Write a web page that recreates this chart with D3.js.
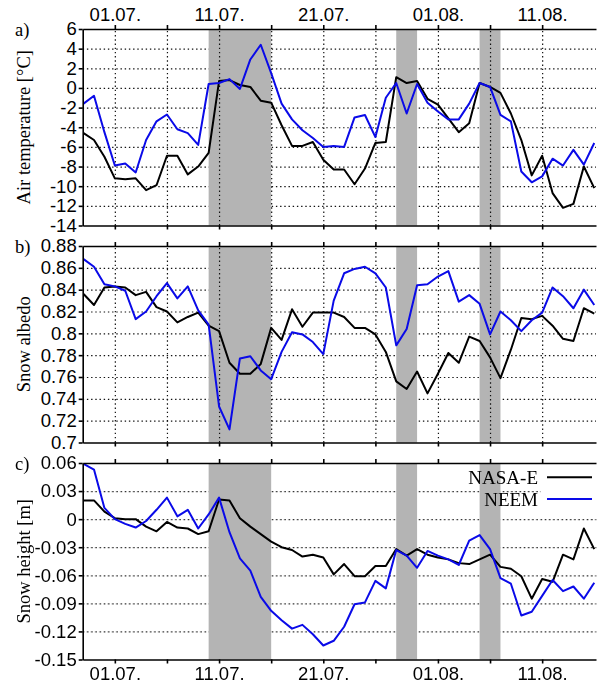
<!DOCTYPE html>
<html>
<head>
<meta charset="utf-8">
<script src="https://cdn.jsdelivr.net/npm/d3@7"></script>
<style>
  body { margin: 0; background: #fff; }
  svg { display: block; font-family: "Liberation Serif", "DejaVu Serif", serif; }
  .grid line { stroke: #111; stroke-width: 1.2; stroke-dasharray: 1.4,2.8; }
  .grid .domain { display: none; }
  .axis text { font-size: 18.5px; fill: #000; }
  .axis line, .axis .domain { stroke: #000; stroke-width: 1.6; }
</style>
</head>
<body>
<div id="chart"></div>
<script>
// Daily values, 28.06. to 16.08.
const startDay = "2012-06-28";
const nDays = 50;

const tempNasa = [-4.6,-5.3,-7.0,-9.2,-9.3,-9.2,-10.4,-9.9,-6.9,-6.9,
  -8.8,-8.0,-6.6,0.7,0.8,0.3,0.1,-1.3,-1.5,-3.8,
  -5.9,-5.9,-5.5,-7.3,-8.3,-8.3,-9.8,-8.2,-5.6,-5.5,
  1.1,0.5,0.7,-1.1,-1.7,-3.1,-4.5,-3.6,0.5,0.1,
  -0.5,-2.6,-5.3,-8.9,-6.9,-10.7,-12.2,-11.8,-8.0,-10.2];
const tempNeem = [-1.6,-0.8,-4.5,-7.9,-7.7,-8.6,-5.3,-3.4,-2.7,-4.2,
  -4.6,-5.8,0.4,0.5,0.9,-0.1,2.9,4.4,1.5,-1.6,
  -3.2,-4.3,-5.1,-6.0,-5.9,-6.0,-3.0,-2.75,-5.0,-1.0,
  0.5,-2.6,0.4,-1.5,-2.4,-3.2,-3.2,-1.6,0.5,0.1,
  -2.75,-3.4,-8.5,-9.6,-9.0,-7.2,-7.9,-6.3,-7.8,-5.6];

const albedoNasa = [0.836,0.826,0.842,0.843,0.842,0.835,0.838,0.824,0.820,0.810,
  0.815,0.819,0.807,0.802,0.773,0.763,0.763,0.772,0.805,0.794,
  0.822,0.806,0.819,0.819,0.819,0.815,0.805,0.805,0.799,0.783,
  0.756,0.749,0.765,0.745,0.763,0.782,0.773,0.797,0.793,0.778,
  0.759,0.785,0.814,0.813,0.816,0.807,0.795,0.793,0.823,0.818];
const albedoNeem = [0.868,0.861,0.845,0.843,0.839,0.813,0.820,0.834,0.846,0.832,
  0.843,0.821,0.808,0.733,0.712,0.777,0.779,0.766,0.758,0.783,
  0.801,0.799,0.792,0.781,0.830,0.855,0.859,0.861,0.855,0.842,
  0.789,0.804,0.844,0.845,0.852,0.857,0.829,0.835,0.827,0.799,
  0.820,0.812,0.802,0.812,0.819,0.842,0.834,0.823,0.840,0.826];

const heightNasa = [0.020,0.020,0.008,0.001,0.000,0.000,-0.008,-0.013,-0.003,-0.009,
  -0.010,-0.016,-0.013,0.021,0.020,0.001,-0.008,-0.016,-0.024,-0.030,
  -0.033,-0.040,-0.038,-0.041,-0.059,-0.048,-0.061,-0.061,-0.050,-0.050,
  -0.032,-0.039,-0.032,-0.038,-0.041,-0.043,-0.047,-0.048,-0.043,-0.038,
  -0.051,-0.053,-0.061,-0.085,-0.064,-0.067,-0.038,-0.043,-0.010,-0.032];
const heightNeem = [0.059,0.053,0.012,0.000,-0.005,-0.009,-0.002,0.010,0.023,0.003,
  0.010,-0.010,0.005,0.023,-0.014,-0.042,-0.055,-0.083,-0.098,-0.108,
  -0.117,-0.113,-0.123,-0.135,-0.130,-0.115,-0.091,-0.089,-0.066,-0.074,
  -0.033,-0.039,-0.052,-0.034,-0.039,-0.043,-0.049,-0.023,-0.017,-0.032,
  -0.063,-0.069,-0.103,-0.099,-0.082,-0.065,-0.077,-0.072,-0.085,-0.068];

// shaded periods
const shadeStart = ["2012-07-10", "2012-07-28", "2012-08-05"];
const shadeEnd = ["2012-07-16", "2012-07-30", "2012-08-07"];

const xTickDates = ["2012-07-01","2012-07-06","2012-07-11","2012-07-16","2012-07-21",
  "2012-07-26","2012-08-01","2012-08-06","2012-08-11"];
const tempTicks = [-14,-12,-10,-8,-6,-4,-2,0,2,4,6];
const albedoTicks = [0.7,0.72,0.74,0.76,0.78,0.8,0.82,0.84,0.86,0.88];
const heightTicks = [-0.15,-0.12,-0.09,-0.06,-0.03,0,0.03,0.06];

const seriesNames = ["NASA-E", "NEEM"];
const colors = ["#000000", "#0a0ae8"];

// layout
const W = 597, H = 685;
const left = 82.7, right = 596;
const panelTop = [29, 246, 463];
const panelH = 196.5;

const parse = d3.utcParse("%Y-%m-%d");
const day0 = parse(startDay);
const dates = d3.range(nDays).map(i => d3.utcDay.offset(day0, i));
const july1 = parse("2012-07-01");

const x = d3.scaleUtc()
  .domain([d3.utcHour.offset(july1, -74), d3.utcHour.offset(july1, 1108)])
  .range([left, right]);
const tickDates = xTickDates.map(parse);
const fmt = d3.utcFormat("%d.%m.");

const svg = d3.select("#chart").append("svg")
  .attr("width", W).attr("height", H);

const defs = svg.append("defs");
// legend box hides the grid in panel c
const mask = defs.append("mask").attr("id", "legmask");
mask.append("rect").attr("x", 0).attr("y", 0).attr("width", W).attr("height", H).attr("fill", "#fff");
mask.append("rect").attr("x", 458).attr("y", 463).attr("width", 140).attr("height", 49).attr("fill", "#000");

const panels = [
  { label: "a)", title: "Air temperature [°C]", ticks: tempTicks, dom: [-14, 6], series: [tempNasa, tempNeem] },
  { label: "b)", title: "Snow albedo", ticks: albedoTicks, dom: [0.7, 0.88], series: [albedoNasa, albedoNeem] },
  { label: "c)", title: "Snow height [m]", ticks: heightTicks, dom: [-0.15, 0.06], series: [heightNasa, heightNeem] }
];

panels.forEach((p, k) => {
  const top = panelTop[k], bottom = top + panelH;
  const y = d3.scaleLinear().domain(p.dom).range([bottom, top]);
  const g = svg.append("g");

  defs.append("clipPath").attr("id", "clip" + k)
    .append("rect").attr("x", left).attr("y", top).attr("width", right - left).attr("height", panelH);

  const gridMask = k === 2 ? "url(#legmask)" : null;

  // horizontal grid
  g.append("g").attr("class", "grid").attr("mask", gridMask)
    .attr("transform", `translate(${left},0)`)
    .call(d3.axisLeft(y).tickValues(p.ticks.slice(1, -1)).tickSize(-(right - left)).tickFormat(""));

  // shaded periods
  g.append("g").selectAll("rect")
    .data(shadeStart.map((s, i) => [parse(s), parse(shadeEnd[i])]))
    .join("rect")
    .attr("x", d => x(d[0]))
    .attr("width", d => x(d[1]) - x(d[0]))
    .attr("y", top).attr("height", panelH)
    .attr("fill", "#b4b4b4");

  // vertical grid
  g.append("g").attr("class", "grid").attr("mask", gridMask)
    .attr("transform", `translate(0,${bottom})`)
    .call(d3.axisBottom(x).tickValues(tickDates).tickSize(-panelH).tickFormat(""));

  // lines
  const line = d3.line()
    .x((d, i) => x(dates[i]))
    .y(d => y(d));
  g.append("g").attr("clip-path", `url(#clip${k})`)
    .selectAll("path")
    .data(p.series)
    .join("path")
    .attr("d", line)
    .attr("fill", "none")
    .attr("stroke", (d, i) => colors[i])
    .attr("stroke-width", 2)
    .attr("stroke-linejoin", "round");

  // axes
  g.append("g").attr("class", "axis")
    .attr("transform", `translate(${left},0)`)
    .call(d3.axisLeft(y).tickValues(p.ticks).tickSize(4).tickPadding(2).tickSizeOuter(0).tickFormat(String));

  g.append("g").attr("class", "axis")
    .attr("transform", `translate(0,${top})`)
    .call(d3.axisTop(x).tickValues(tickDates).tickSize(4).tickPadding(4.5).tickSizeOuter(0)
      .tickFormat((d, i) => (k === 0 && i % 2 === 0) ? fmt(d) : ""));

  g.append("g").attr("class", "axis")
    .attr("transform", `translate(0,${bottom})`)
    .call(d3.axisBottom(x).tickValues(tickDates).tickSize(4).tickPadding(3.5).tickSizeOuter(0)
      .tickFormat((d, i) => (k === 2 && i % 2 === 0) ? fmt(d) : ""));

  // panel letter
  g.append("text")
    .attr("x", 15).attr("y", top + 7)
    .attr("font-size", 18.5)
    .text(p.label);

  // y title
  g.append("text")
    .attr("transform", `translate(30,${(top + bottom) / 2}) rotate(-90)`)
    .attr("text-anchor", "middle")
    .attr("font-size", 18.5)
    .text(p.title);

  if (k === 2) {
    const leg = g.append("g");
    seriesNames.forEach((name, i) => {
      const ly = 477.3 + i * 21.7;
      leg.append("text")
        .attr("x", 538).attr("y", ly + 7)
        .attr("text-anchor", "end")
        .attr("font-size", 19)
        .text(name);
      leg.append("line")
        .attr("x1", 547).attr("x2", 592)
        .attr("y1", ly).attr("y2", ly)
        .attr("stroke", colors[i]).attr("stroke-width", 2);
    });
  }
});
</script>
</body>
</html>
